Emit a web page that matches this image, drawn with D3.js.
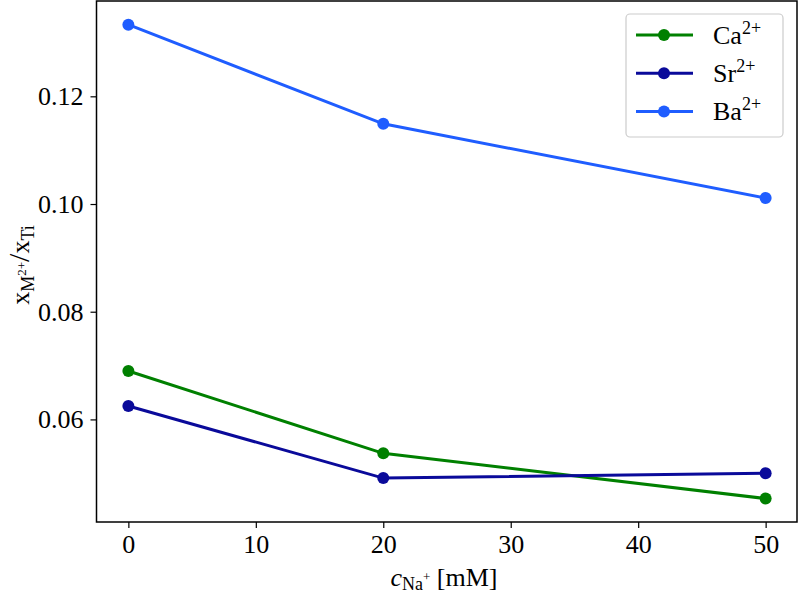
<!DOCTYPE html>
<html><head><meta charset="utf-8">
<script src="https://cdn.jsdelivr.net/npm/d3@7"></script>
<style>body{margin:0;background:#fff}svg{display:block}text{font-family:"Liberation Serif","DejaVu Serif",serif;}</style>
</head><body>
<script>
const xValues = [0, 20, 50];
const caValues = [0.0690, 0.0537, 0.0453];
const srValues = [0.0625, 0.0491, 0.0500];
const baValues = [0.1333, 0.1149, 0.1011];
const seriesNames = ["Ca", "Sr", "Ba"];
const seriesColors = ["#008000", "#0a0a9a", "#1f5dff"];
const xTicks = [0, 10, 20, 30, 40, 50];
const yTicks = [0.06, 0.08, 0.10, 0.12];

const W = 798, H = 596;
const svg = d3.select("body").append("svg").attr("width", W).attr("height", H);
const x = d3.scaleLinear().domain([-2.5, 52.5]).range([96.5, 797.5]);
const y = d3.scaleLinear().domain([0.04095, 0.1377]).range([522, 1]);
const fs = 26;

const series = [caValues, srValues, baValues].map((v, i) => ({name: seriesNames[i], color: seriesColors[i], values: v}));

const line = d3.line().x((d, i) => x(xValues[i])).y(d => y(d));
series.forEach(s => {
  svg.append("path").attr("d", line(s.values)).attr("fill", "none")
    .attr("stroke", s.color).attr("stroke-width", 3);
  svg.selectAll(null).data(s.values).enter().append("circle")
    .attr("cx", (d, i) => x(xValues[i])).attr("cy", d => y(d)).attr("r", 6).attr("fill", s.color);
});

// axes
const xAxis = d3.axisBottom(x).tickValues(xTicks).tickFormat(d3.format("d")).tickSize(6).tickPadding(7);
const gx = svg.append("g").attr("transform", "translate(0,522)").call(xAxis);
const yAxis = d3.axisLeft(y).tickValues(yTicks).tickFormat(d3.format(".2f")).tickSize(6).tickPadding(7);
const gy = svg.append("g").attr("transform", "translate(96.5,0)").call(yAxis);
[gx, gy].forEach(g => {
  g.select(".domain").remove();
  g.selectAll("line").attr("stroke", "#000").attr("stroke-width", 1.2);
  g.selectAll("text").attr("font-family", "Liberation Serif, serif").attr("font-size", fs).attr("fill", "#000");
});
svg.append("rect").attr("x", 96.5).attr("y", 1).attr("width", 700.5).attr("height", 521)
  .attr("fill", "none").attr("stroke", "#000").attr("stroke-width", 1.5);

// legend
const lg = svg.append("g");
lg.append("rect").attr("x", 626).attr("y", 14).attr("width", 157).attr("height", 123).attr("rx", 4)
  .attr("fill", "#fff").attr("fill-opacity", 0.85).attr("stroke", "#cccccc").attr("stroke-width", 1.2);
series.forEach((s, i) => {
  const ry = 35 + i * 38.3;
  lg.append("line").attr("x1", 636).attr("x2", 693).attr("y1", ry).attr("y2", ry).attr("stroke", s.color).attr("stroke-width", 3);
  lg.append("circle").attr("cx", 664).attr("cy", ry).attr("r", 6).attr("fill", s.color);
  const t = lg.append("text").attr("x", 713).attr("y", ry + 8.5).attr("font-size", fs);
  t.append("tspan").text(s.name);
  t.append("tspan").attr("dy", -10).attr("font-size", 18).text("2+");
});

// x label
const xl = svg.append("text").attr("x", 444).attr("y", 586).attr("text-anchor", "middle").attr("font-size", fs);
xl.append("tspan").attr("font-style", "italic").text("c");
xl.append("tspan").attr("dy", 4).attr("font-size", 18).text("Na");
xl.append("tspan").attr("dy", -9).attr("font-size", 13).text("+");
xl.append("tspan").attr("dy", 5).attr("font-size", fs).text(" [mM]");

// y label
const yl = svg.append("text").attr("transform", "translate(29,265) rotate(-90)").attr("text-anchor", "middle").attr("font-size", fs);
yl.append("tspan").text("x");
yl.append("tspan").attr("dy", 5).attr("font-size", 18).text("M");
yl.append("tspan").attr("dy", -8).attr("font-size", 13).text("2+");
yl.append("tspan").attr("dy", 3).attr("font-size", 30).text("/");
yl.append("tspan").attr("font-size", fs).text("x");
yl.append("tspan").attr("dy", 5).attr("font-size", 18).text("Ti");
</script>
</body></html>
